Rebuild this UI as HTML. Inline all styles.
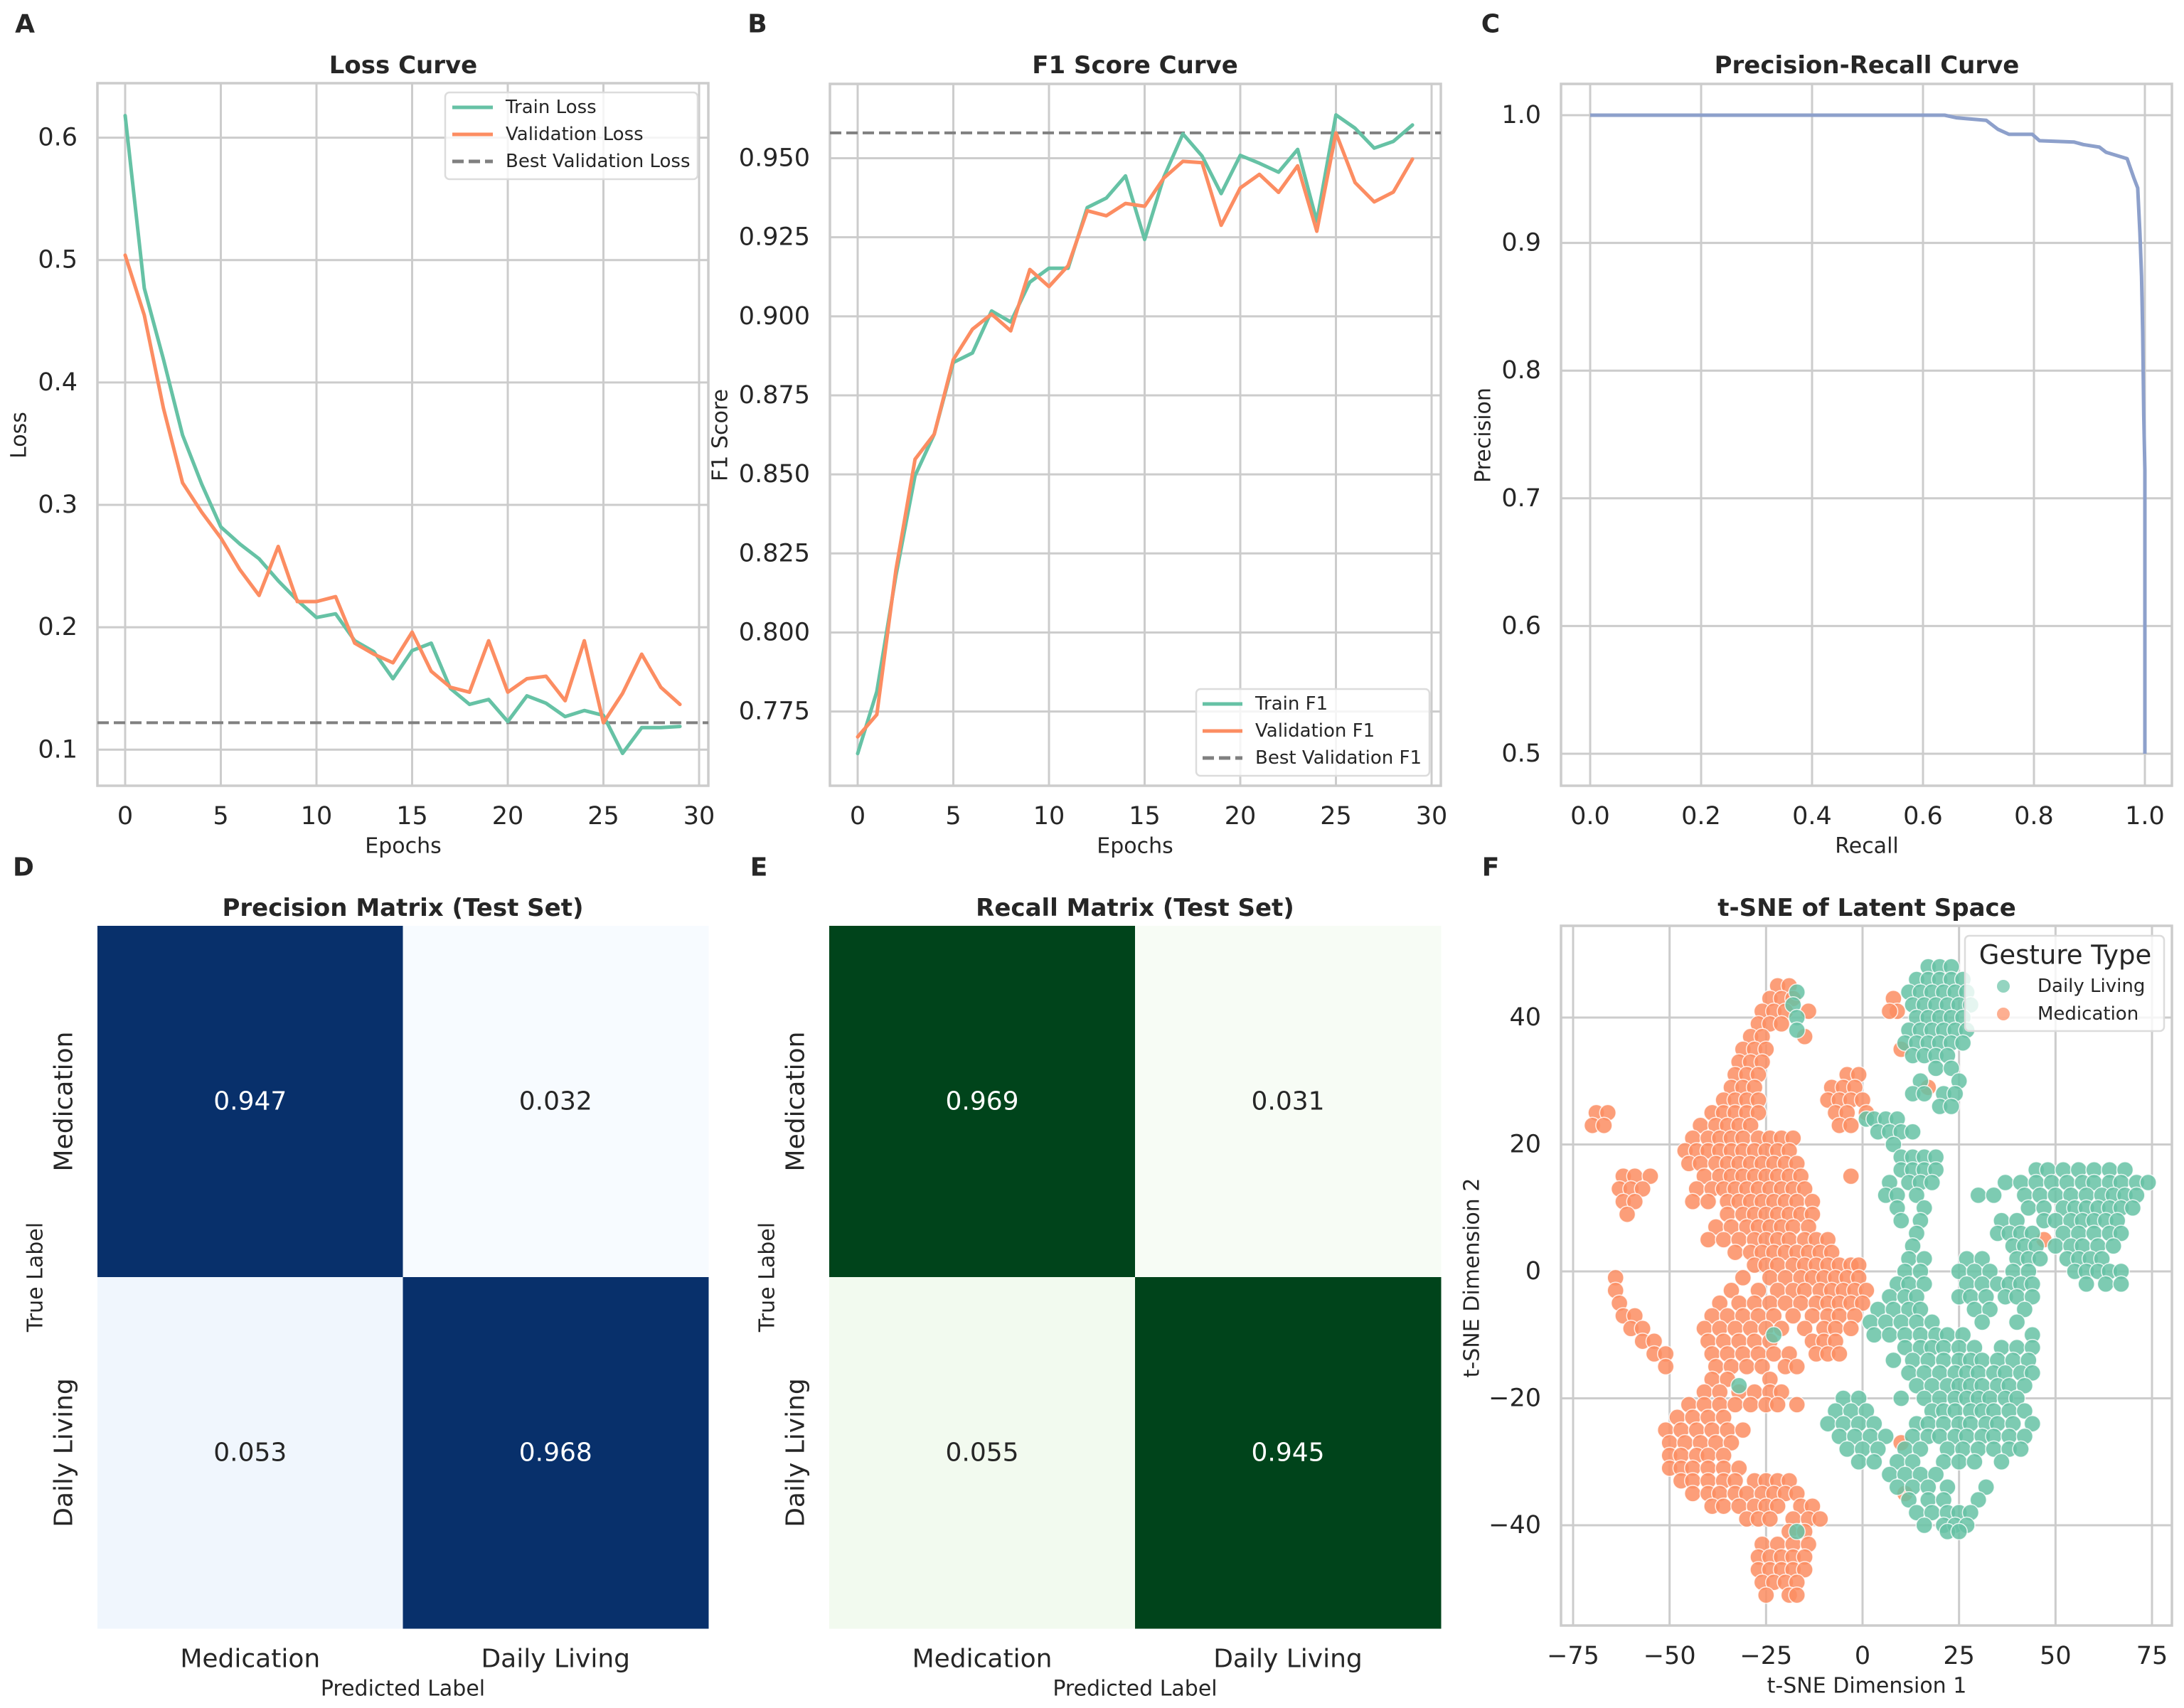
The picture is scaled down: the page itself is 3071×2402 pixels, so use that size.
<!DOCTYPE html>
<html><head><meta charset="utf-8">
<style>
html,body{margin:0;padding:0;background:#fff;}
svg{display:block;font-family:"DejaVu Sans","Liberation Sans",sans-serif;}
</style></head>
<body>
<svg id="fig" width="3071" height="2402" viewBox="0 0 3071 2402" xmlns="http://www.w3.org/2000/svg"></svg>
<script>
// ---------- DATA ----------
const epochs = [0,1,2,3,4,5,6,7,8,9,10,11,12,13,14,15,16,17,18,19,20,21,22,23,24,25,26,27,28,29];
const trainLoss = [0.618,0.477,0.419,0.357,0.317,0.282,0.268,0.256,0.238,0.222,0.208,0.211,0.189,0.180,0.158,0.181,0.187,0.150,0.137,0.141,0.123,0.144,0.138,0.127,0.132,0.128,0.097,0.118,0.118,0.119];
const valLoss = [0.504,0.455,0.379,0.318,0.294,0.273,0.247,0.226,0.266,0.221,0.221,0.225,0.187,0.178,0.171,0.196,0.164,0.151,0.147,0.189,0.147,0.158,0.160,0.140,0.189,0.122,0.146,0.178,0.151,0.137];
const bestValLoss = 0.122;
const lossYTicks = [0.1,0.2,0.3,0.4,0.5,0.6];
const epochTicks = [0,5,10,15,20,25,30];
const trainF1 = [0.7617,0.7813,0.818,0.8496,0.8627,0.8854,0.8884,0.9017,0.8982,0.9108,0.9152,0.9152,0.9344,0.9374,0.9444,0.9243,0.944,0.9577,0.9507,0.9388,0.9509,0.9484,0.9456,0.9528,0.930,0.9637,0.9595,0.9532,0.9553,0.9605];
const valF1 = [0.767,0.774,0.8198,0.8548,0.8627,0.8863,0.8959,0.9007,0.8954,0.9148,0.9094,0.916,0.9334,0.9318,0.9357,0.9348,0.9437,0.949,0.9486,0.9288,0.9406,0.9449,0.9392,0.9476,0.9269,0.958,0.9423,0.9362,0.9393,0.9497];
const bestValF1 = 0.958;
const f1YTicks = [0.775,0.800,0.825,0.850,0.875,0.900,0.925,0.950];
const prRecall = [0,0.639,0.66,0.714,0.735,0.755,0.797,0.81,0.872,0.889,0.918,0.93,0.968,0.98,0.987,0.991,0.994,0.996,0.998,1.0,1.0];
const prPrecision = [1,1,0.998,0.996,0.989,0.985,0.985,0.98,0.979,0.977,0.975,0.971,0.966,0.951,0.943,0.908,0.874,0.83,0.765,0.722,0.5];
const prTicks = [0.0,0.2,0.4,0.6,0.8,1.0];
const prYTicks = [0.5,0.6,0.7,0.8,0.9,1.0];
const classLabels = ["Medication","Daily Living"];
const precisionMatrix = [[0.947,0.032],[0.053,0.968]];
const recallMatrix = [[0.969,0.031],[0.055,0.945]];
const tsneXTicks = [-75,-50,-25,0,25,50,75];
const tsneYTicks = [-40,-20,0,20,40];
// t-SNE points, rows of [y, x1, x2, ...]
const medRows = [
[45,-22,-19],[43,-24,-21,-18,8],[41,-26,-23,-20,-14,9,7],[39,-27,-24,-21],[37,-29,-26,-15],[35,-31,-28,-25,10],
[33,-32,-29,-26],[31,-33,-30,-27,-4,-1],[29,-34,-31,-28,-8,-5,-2,17],[27,-36,-33,-30,-27,-9,-6,-3,0],
[25,-69,-66,-39,-36,-33,-30,-27,-7,-4,1],[23,-70,-67,-42,-38,-35,-32,-29,-6,-3],
[21,-44,-40,-37,-34,-31,-27,-24,-21,-18],[19,-46,-43,-40,-37,-34,-31,-28,-25,-22,-19],
[17,-45,-42,-38,-35,-32,-29,-26,-23,-20,-17],[15,-62,-59,-55,-41,-37,-34,-31,-28,-25,-22,-19,-16,-3],
[13,-63,-60,-57,-43,-39,-36,-33,-30,-27,-24,-21,-18,-15],[11,-62,-59,-44,-40,-35,-32,-29,-26,-23,-20,-17,-13],
[9,-61,-35,-31,-28,-25,-22,-19,-16,-13],[7,-38,-34,-30,-27,-24,-21,-18,-14],[5,-40,-36,-32,-28,-25,-22,-19,-15,-12,-9,47],
[3,-33,-29,-26,-23,-20,-17,-14,-11,-8],[1,-28,-25,-22,-18,-15,-12,-9,-6,-3,-1],[-1,-64,-31,-24,-20,-16,-13,-10,-7,-4,-1],
[-3,-64,-34,-27,-22,-18,-15,-11,-8,-5,-2,1],[-5,-63,-37,-32,-28,-24,-20,-16,-12,-9,-6,-3,0],
[-7,-62,-59,-39,-35,-31,-27,-23,-18,-13,-9,-6,-2],[-9,-60,-57,-41,-37,-33,-29,-25,-21,-15,-10,-7,-3],
[-11,-57,-54,-40,-36,-32,-28,-24,-13,-10,-7],[-13,-54,-51,-39,-35,-31,-27,-23,-19,-12,-9,-6],
[-15,-51,-38,-34,-30,-26,-20,-17],[-17,-39,-35,-24],[-19,-41,-37,-32,-28,-24,-21],[-21,-45,-41,-37,-33,-29,-25,-22,-17],
[-23,-48,-44,-40,-36],[-25,-51,-47,-43,-39,-35,-31],[-27,-50,-46,-42,-38,-34,10],[-29,-50,-47,-43,-40,-36],
[-31,-50,-47,-44,-40,-36,-32],[-33,-47,-44,-40,-36,-33,-28,-25,-22,-19],[-35,-44,-40,-37,-33,-30,-26,-23,-20,-17,11],
[-37,-39,-36,-32,-28,-25,-22,-16,-13],[-39,-30,-27,-24,-18,-14,-11],[-41,-19,-15],[-43,-26,-22,-18,-14],
[-45,-27,-24,-21,-18,-15],[-47,-27,-24,-21,-18,-15],[-49,-26,-23,-20,-17],[-51,-25,-19,-17]
];
const dailyRows = [
[48,17,20,23],[46,14,17,20,23,26],[44,12,15,18,21,24,27,-17],[42,13,16,19,22,25,28,-18],[40,14,17,20,23,26,-17],
[38,12,15,18,21,24,27,-17],[36,11,14,17,20,23,26],[34,13,16,19,22],[32,19,23],[30,15,25],[28,13,16,21,24],[26,20,23],
[24,1,3,6,9],[22,4,7,10,13],[20,8],[18,10,13,16,19],[16,10,13,16,19,45,48,52,56,60,64,68],
[14,7,12,15,18,37,41,45,49,53,57,60,64,67,71,74],[12,6,9,14,30,34,42,46,50,54,58,62,65,68,71],
[10,9,16,43,47,52,55,58,61,64,67,70],[8,10,15,36,40,47,50,54,57,60,63,66],[6,14,35,38,41,44,52,56,60,64,67],
[4,13,39,42,45,50,54,57,61,65],[2,12,16,27,31,40,43,46,53,56,59,62],[0,11,15,25,29,33,39,43,55,58,61,64,67],
[-2,9,12,16,27,31,35,38,41,44,58,63,67],[-4,7,11,14,25,28,32,37,40,44],[-6,4,8,12,15,29,33,42],
[-8,2,6,10,14,18,31,40],[-10,3,7,11,15,19,22,26,-23,44],[-12,11,15,18,21,25,29,36,40,44],
[-14,8,13,17,21,25,28,31,35,39,43],[-16,12,16,20,24,27,30,34,37,41,44],[-18,14,18,22,25,28,31,35,38,42,-32],
[-20,-5,-1,10,16,20,24,27,30,33,37,40],[-22,-7,-3,1,18,21,24,28,31,34,38,42],
[-24,-9,-5,-1,3,14,17,21,25,28,32,35,39,44],[-26,-6,-2,2,6,13,17,20,24,27,31,34,38,42],
[-28,-4,0,4,11,15,22,26,30,34,38,41],[-30,-1,3,9,13,21,25,29,36],[-32,7,11,15,19],[-34,9,13,17,22,32],
[-36,12,17,21,30],[-38,14,18,22,25,28],[-40,16,21,24,27],[-41,22,25],[-41,-17]
];

// ---------- HELPERS ----------
const NS="http://www.w3.org/2000/svg";
const svg=document.getElementById('fig');
const INK="#262626", GRID="#cccccc";
function mk(tag,attrs,parent){const e=document.createElementNS(NS,tag);for(const k in attrs)e.setAttribute(k,attrs[k]);(parent||svg).appendChild(e);return e;}
function txt(s,x,y,size,opts,parent){opts=opts||{};const t=mk('text',{x:x,y:y,'font-size':size,fill:opts.fill||INK,'text-anchor':opts.anchor||'middle','dominant-baseline':'central','font-weight':opts.bold?'bold':'normal'},parent);if(opts.rot)t.setAttribute('transform','rotate('+opts.rot+' '+x+' '+y+')');t.textContent=s;return t;}
function lin(d0,d1,p0,p1){return v=>p0+(v-d0)/(d1-d0)*(p1-p0);}

function axesFrame(g,L,R,T,B,xs,ys,xt,yt,fmtX,fmtY){
  xt.forEach(v=>{const x=xs(v);const l=mk('line',{x1:x,x2:x,y1:T,y2:B,stroke:GRID,'stroke-width':3},g);
    
    const t=txt(fmtX(v),x,B+43,35,{},g);});
  yt.forEach(v=>{const y=ys(v);const l=mk('line',{x1:L,x2:R,y1:y,y2:y,stroke:GRID,'stroke-width':3},g);
    
    const t=txt(fmtY(v),L-28,y,35,{anchor:'end'},g);});
  const r=mk('rect',{x:L,y:T,width:R-L,height:B-T,fill:'none',stroke:GRID,'stroke-width':3.5},g);
  
}
function polyline(g,xsArr,ysArr,xs,ys,color,w,dash){
  const pts=xsArr.map((v,i)=>xs(v).toFixed(1)+','+ys(ysArr[i]).toFixed(1)).join(' ');
  const p=mk('polyline',{points:pts,fill:'none',stroke:color,'stroke-width':w,'stroke-linejoin':'round','stroke-linecap':'round'},g);
  if(dash)p.setAttribute('stroke-dasharray',dash);return p;
}
function panelLetter(s,x,y){const t=txt(s,x,y,36,{bold:true});}

const GREEN="#66c2a5", ORANGE="#fc8d62", BLUE="#8da0cb", DASH="#808080";

// ---------- PANEL A ----------
(function(){
  const g=mk('g',{});
  const L=137,R=996,T=117,B=1105;
  const xs=lin(0,30,176,983), ys=lin(0.1,0.6,1054.3,193.6);
  axesFrame(g,L,R,T,B,xs,ys,epochTicks,lossYTicks,v=>String(v),v=>v.toFixed(1));
  const bl=mk('line',{x1:L,x2:R,y1:ys(bestValLoss),y2:ys(bestValLoss),stroke:DASH,'stroke-width':4,'stroke-dasharray':'16,7'},g);
  
  const a=polyline(g,epochs,trainLoss,xs,ys,GREEN,5);
  const b=polyline(g,epochs,valLoss,xs,ys,ORANGE,5);
  let t=txt('Loss Curve',567,92,34,{bold:true},g);
  t=txt('Epochs',567,1190,30,{},g);
  t=txt('Loss',27,612,30,{rot:-90},g);
  const lg=mk('g',{},g);
  mk('rect',{x:626,y:130,width:355,height:122,rx:6,fill:'#fff','fill-opacity':0.8,stroke:'#dcdcdc','stroke-width':2.5},lg);
  [['Train Loss',GREEN,''],['Validation Loss',ORANGE,''],['Best Validation Loss',DASH,'16,7']].forEach((e,i)=>{
    const y=151+i*38;const l=mk('line',{x1:636,x2:693,y1:y,y2:y,stroke:e[1],'stroke-width':5},lg);if(e[2])l.setAttribute('stroke-dasharray',e[2]);
    const tt=txt(e[0],711,y,26,{anchor:'start'},lg);});
})();
panelLetter('A',35,34);

// ---------- PANEL B ----------
(function(){
  const g=mk('g',{});
  const L=1167,R=2026,T=118,B=1105;
  const xs=lin(0,30,1206,2013), ys=lin(0.775,0.95,1000.6,222.5);
  axesFrame(g,L,R,T,B,xs,ys,epochTicks,f1YTicks,v=>String(v),v=>v.toFixed(3));
  const bl=mk('line',{x1:L,x2:R,y1:ys(bestValF1),y2:ys(bestValF1),stroke:DASH,'stroke-width':4,'stroke-dasharray':'16,7'},g);
  
  const a=polyline(g,epochs,trainF1,xs,ys,GREEN,5);
  const b=polyline(g,epochs,valF1,xs,ys,ORANGE,5);
  let t=txt('F1 Score Curve',1596,92,34,{bold:true},g);
  t=txt('Epochs',1596,1190,30,{},g);
  t=txt('F1 Score',1013,612,30,{rot:-90},g);
  const lg=mk('g',{},g);
  mk('rect',{x:1682,y:969,width:328,height:122,rx:6,fill:'#fff','fill-opacity':0.8,stroke:'#dcdcdc','stroke-width':2.5},lg);
  [['Train F1',GREEN,''],['Validation F1',ORANGE,''],['Best Validation F1',DASH,'16,7']].forEach((e,i)=>{
    const y=990+i*38;const l=mk('line',{x1:1691,x2:1747,y1:y,y2:y,stroke:e[1],'stroke-width':5},lg);if(e[2])l.setAttribute('stroke-dasharray',e[2]);
    const tt=txt(e[0],1765,y,26,{anchor:'start'},lg);});
})();
panelLetter('B',1065,34);

// ---------- PANEL C ----------
(function(){
  const g=mk('g',{});
  const L=2195,R=3054,T=118,B=1105;
  const xs=lin(0,1,2236,3016), ys=lin(0.5,1.0,1060,162);
  axesFrame(g,L,R,T,B,xs,ys,prTicks,prYTicks,v=>v.toFixed(1),v=>v.toFixed(1));
  let pts=[];prRecall.forEach((r,i)=>{pts.push(xs(r).toFixed(1)+','+ys(prPrecision[i]).toFixed(1));});
  const p=mk('polyline',{points:pts.join(' '),fill:'none',stroke:BLUE,'stroke-width':5,'stroke-linejoin':'round'},g);
  
  let t=txt('Precision-Recall Curve',2625,92,34,{bold:true},g);
  t=txt('Recall',2625,1190,30,{},g);
  t=txt('Precision',2086,612,30,{rot:-90},g);
})();
panelLetter('C',2096,34);

// ---------- HEATMAPS ----------
function heatmap(name,L,R,mat,title,dark,light1,light2){
  const g=mk('g',{});
  const T=1302,B=2290;const cw=(R-L)/2,ch=(B-T)/2;
  mat.forEach((row,i)=>row.forEach((v,j)=>{
    const fill=v>0.5?dark:(i===0?light1:light2);
    const r=mk('rect',{x:L+j*cw,y:T+i*ch,width:cw+0.5,height:ch+0.5,fill:fill},g);
    
    const t=txt(v.toFixed(3),L+(j+0.5)*cw,T+(i+0.5)*ch,36,{fill:v>0.5?'#ffffff':INK},g);
    
  }));
  classLabels.forEach((c,j)=>{const t=txt(c,L+(j+0.5)*cw,2333,36,{},g);
    const u=txt(c,L-47,T+(j+0.5)*ch,36,{rot:-90},g);});
  let t=txt(title,(L+R)/2,1277,34,{bold:true},g);
  t=txt('Predicted Label',(L+R)/2,2375,30,{},g);
  t=txt('True Label',L-87,1796,30,{rot:-90},g);
}
heatmap('precision-matrix-panel',137,996,precisionMatrix,'Precision Matrix (Test Set)','#08306b','#f7fbff','#f0f6fd');
heatmap('recall-matrix-panel',1166,2026,recallMatrix,'Recall Matrix (Test Set)','#00441b','#f7fcf5','#f2faef');
panelLetter('D',33,1220);
panelLetter('E',1067,1220);

// ---------- PANEL F ----------
(function(){
  const g=mk('g',{});
  const L=2195,R=3054,T=1302,B=2286;
  const xs=lin(-75,75,2212,3026), ys=lin(-40,40,2145,1431);
  axesFrame(g,L,R,T,B,xs,ys,tsneXTicks,tsneYTicks,v=>String(v).replace('-','\u2212'),v=>String(v).replace('-','\u2212'));
  function drawRows(rows,color,nm){
    const pg=mk('g',{},g);
    rows.forEach(r=>{const y=r[0];for(let k=1;k<r.length;k++){
      const c=mk('circle',{cx:xs(r[k]).toFixed(1),cy:ys(y).toFixed(1),r:11.5,fill:color,'fill-opacity':0.85,stroke:'#fff','stroke-width':1.5,'stroke-opacity':0.8},pg);
      
      
    }});
  }
  drawRows(medRows,ORANGE,'medication-points');
  drawRows(dailyRows,GREEN,'daily-living-points');
  let t=txt('t-SNE of Latent Space',2625,1277,34,{bold:true},g);
  t=txt('t-SNE Dimension 1',2625,2371,30,{},g);
  t=txt('t-SNE Dimension 2',2070,1797,30,{rot:-90},g);
  const lg=mk('g',{},g);
  mk('rect',{x:2763,y:1316,width:280,height:134,rx:6,fill:'#fff','fill-opacity':0.8,stroke:'#dcdcdc','stroke-width':2.5},lg);
  t=txt('Gesture Type',2904,1343,37,{},lg);
  [['Daily Living',GREEN],['Medication',ORANGE]].forEach((e,i)=>{const y=1387+i*39;
    mk('circle',{cx:2817,cy:y,r:9,fill:e[1],'fill-opacity':0.7},lg);
    const tt=txt(e[0],2865,y,26,{anchor:'start'},lg);});
})();
panelLetter('F',2096,1220);
</script>
</body></html>
